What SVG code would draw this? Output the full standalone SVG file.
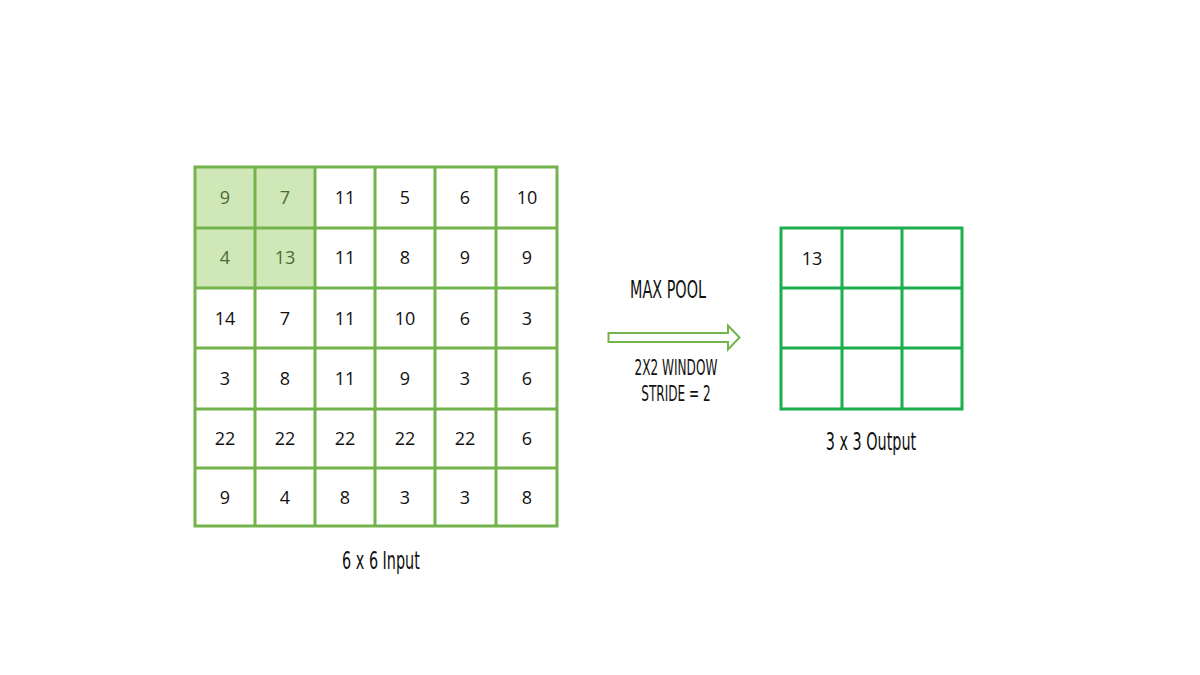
<svg xmlns="http://www.w3.org/2000/svg" width="1200" height="675" viewBox="0 0 1200 675">
<style>
.num{font-family:"Open Sans","Liberation Sans",sans-serif;font-size:18px;fill:#111;text-anchor:middle;dominant-baseline:central}
.hn{fill:#4a6b34}
.lbl{font-family:"DejaVu Sans Condensed","Liberation Sans Narrow",sans-serif;fill:#111;text-anchor:middle;font-stretch:condensed}
.g1{stroke:#72b34b;stroke-width:3;fill:none}
.g2{stroke:#1aae4e;stroke-width:3;fill:none}
</style>
<rect width="1200" height="675" fill="#fff"/>
<g id="input">
<rect x="195" y="167" width="120" height="121" fill="#d0e8b8"/>
<path class="g1" d="M195 167H557V526H195Z M255 167V526 M315 167V526 M375 167V526 M435 167V526 M496 167V526 M195 228H557 M195 288H557 M195 348H557 M195 409H557 M195 468H557"/>
<g class="num">
<text class="num hn" x="225" y="197">9</text><text class="num hn" x="285" y="197">7</text><text class="num" x="345" y="197">11</text><text class="num" x="405" y="197">5</text><text class="num" x="465" y="197">6</text><text class="num" x="527" y="197">10</text>
<text class="num hn" x="225" y="257">4</text><text class="num hn" x="285" y="257">13</text><text class="num" x="345" y="257">11</text><text class="num" x="405" y="257">8</text><text class="num" x="465" y="257">9</text><text class="num" x="527" y="257">9</text>
<text class="num" x="225" y="318">14</text><text class="num" x="285" y="318">7</text><text class="num" x="345" y="318">11</text><text class="num" x="405" y="318">10</text><text class="num" x="465" y="318">6</text><text class="num" x="527" y="318">3</text>
<text class="num" x="225" y="378">3</text><text class="num" x="285" y="378">8</text><text class="num" x="345" y="378">11</text><text class="num" x="405" y="378">9</text><text class="num" x="465" y="378">3</text><text class="num" x="527" y="378">6</text>
<text class="num" x="225" y="438">22</text><text class="num" x="285" y="438">22</text><text class="num" x="345" y="438">22</text><text class="num" x="405" y="438">22</text><text class="num" x="465" y="438">22</text><text class="num" x="527" y="438">6</text>
<text class="num" x="225" y="497">9</text><text class="num" x="285" y="497">4</text><text class="num" x="345" y="497">8</text><text class="num" x="405" y="497">3</text><text class="num" x="465" y="497">3</text><text class="num" x="527" y="497">8</text>
</g>
<text class="lbl" x="381" y="569" font-size="25" transform="translate(381 0) scale(0.64 1) translate(-381 0)">6 x 6 Input</text>
</g>
<g id="output">
<path class="g2" d="M781 228H962V409H781Z M842 228V409 M902 228V409 M781 288H962 M781 348H962"/>
<text class="num" x="812" y="258">13</text>
<text class="lbl" x="871" y="450" font-size="25" transform="translate(871 0) scale(0.64 1) translate(-871 0)">3 x 3 Output</text>
</g>
<g id="connectors">
<path d="M608.5 333H728V325.5L739.5 337.5L728 349.5V342H608.5Z" fill="#fff" stroke="#72b34b" stroke-width="2"/>
</g>
<g id="labels">
<text class="lbl" x="668" y="298" font-size="25" transform="translate(668 0) scale(0.64 1) translate(-668 0)">MAX POOL</text>
<text class="lbl" x="676" y="375" font-size="21" transform="translate(676 0) scale(0.64 1) translate(-676 0)">2X2 WINDOW</text>
<text class="lbl" x="676" y="401" font-size="21" transform="translate(676 0) scale(0.64 1) translate(-676 0)">STRIDE = 2</text>
</g>
</svg>
